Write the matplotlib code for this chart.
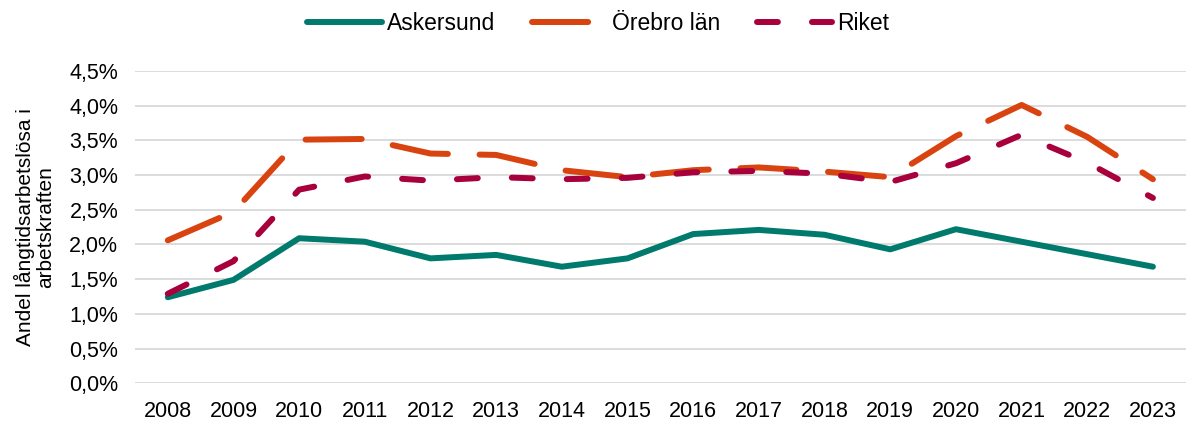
import matplotlib
matplotlib.use("Agg")
import matplotlib.pyplot as plt
from matplotlib.ticker import FuncFormatter, MultipleLocator

plt.rcParams["font.family"] = ["Liberation Sans", "DejaVu Sans"]

years = [str(y) for y in range(2008, 2024)]
askersund = [1.24, 1.49, 2.09, 2.04, 1.80, 1.85, 1.68, 1.80, 2.15, 2.21, 2.14, 1.93, 2.22, 2.04, 1.86, 1.68]
orebro = [2.06, 2.47, 3.51, 3.52, 3.31, 3.29, 3.07, 2.97, 3.07, 3.11, 3.05, 2.97, 3.56, 4.01, 3.55, 2.94]
riket = [1.29, 1.76, 2.79, 2.98, 2.92, 2.97, 2.94, 2.96, 3.04, 3.06, 3.02, 2.90, 3.17, 3.58, 3.18, 2.67]

fig = plt.figure(figsize=(11.86, 4.21), dpi=100)
ax = fig.add_axes([0.1138, 0.0895, 0.886, 0.742])

x = range(len(years))
lw = 4.3
ax.plot(x, askersund, color="#007A6C", lw=lw, solid_capstyle="round",
        solid_joinstyle="round", label="Askersund", zorder=3)
l2, = ax.plot(x, orebro, color="#D9430F", lw=lw, dash_capstyle="round",
              dash_joinstyle="round", label="Örebro län", zorder=3)
l2.set_dashes((9.4, 5.3))
l3, = ax.plot(x, riket, color="#A8003C", lw=lw, dash_capstyle="round",
              dash_joinstyle="round", label="Riket", zorder=4)
l3.set_dashes((3.5, 5.7))

ax.set_xlim(-0.5, len(years) - 0.5)
ax.set_ylim(0, 4.5)
ax.set_xticks(list(x))
ax.set_xticklabels(years)
ax.yaxis.set_major_locator(MultipleLocator(0.5))
ax.yaxis.set_major_formatter(FuncFormatter(lambda v, p: f"{v:.1f}%".replace(".", ",")))
ax.tick_params(axis="both", length=0, labelsize=15.5, colors="black")
ax.tick_params(axis="y", pad=12)
ax.tick_params(axis="x", pad=13)
ax.grid(axis="y", color="#D9D9D9", lw=1.3)
ax.set_axisbelow(True)
for s in ax.spines.values():
    s.set_visible(False)

ax.set_ylabel("Andel långtidsarbetslösa i\narbetskraften", fontsize=15, linespacing=1.05)
ax.yaxis.set_label_coords(-0.076, 0.5)

fig.legend(loc="center", bbox_to_anchor=(0.504, 0.945), ncol=3, frameon=False,
           fontsize=16.5, handlelength=3.3, handletextpad=0.2, columnspacing=1.6)

fig.savefig("out.png", dpi=100)
